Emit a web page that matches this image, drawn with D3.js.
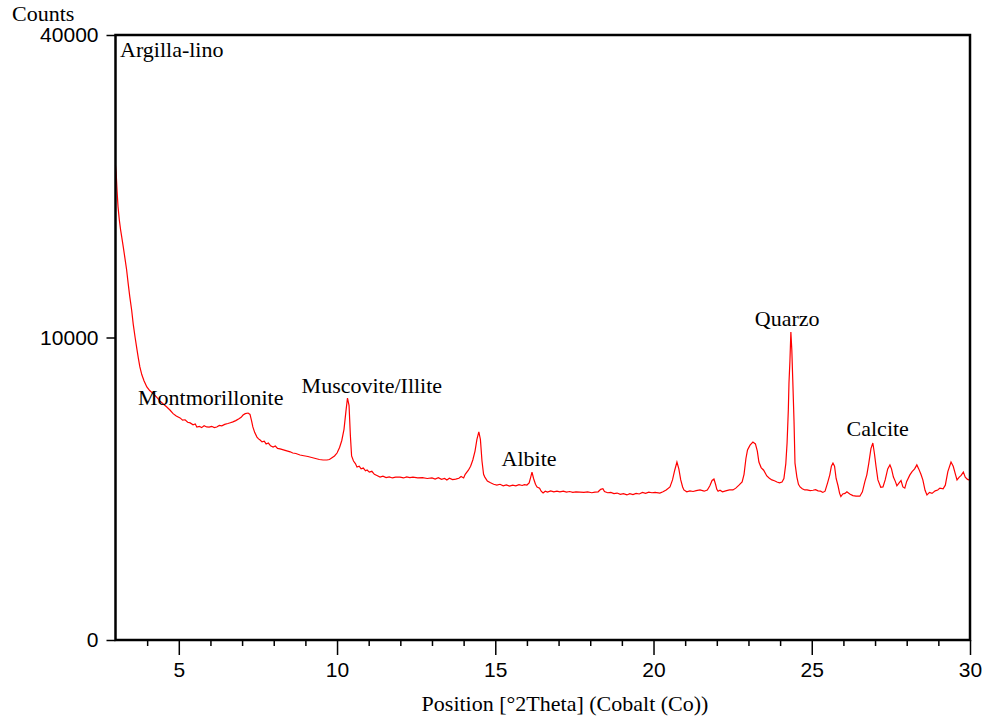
<!DOCTYPE html>
<html>
<head>
<meta charset="utf-8">
<script src="https://cdn.jsdelivr.net/npm/d3@7"></script>
<style>
  html, body { margin: 0; padding: 0; background: #fff; }
  svg { display: block; }
</style>
</head>
<body>
<svg id="chart" width="987" height="722"></svg>
<script>
// ---- data ----
const positions = [3.00,3.02,3.05,3.08,3.12,3.16,3.20,3.25,3.30,3.35,3.40,3.45,3.51,3.56,3.62,3.68,3.72,3.77,3.83,3.90,3.99,4.08,4.18,4.30,4.40,4.50,4.62,4.72,4.82,4.92,5.04,5.12,5.20,5.28,5.36,5.45,5.52,5.57,5.65,5.72,5.80,5.88,5.96,6.04,6.12,6.20,6.28,6.36,6.45,6.55,6.63,6.71,6.80,6.90,6.97,7.03,7.10,7.19,7.25,7.30,7.34,7.40,7.47,7.52,7.57,7.63,7.70,7.76,7.83,7.90,7.98,8.05,8.12,8.20,8.28,8.36,8.44,8.52,8.60,8.70,8.83,8.95,9.08,9.20,9.32,9.44,9.56,9.68,9.76,9.84,9.92,10.00,10.08,10.15,10.22,10.28,10.33,10.38,10.42,10.46,10.52,10.58,10.63,10.70,10.76,10.83,10.90,10.95,11.02,11.10,11.18,11.26,11.36,11.45,11.55,11.65,11.75,11.85,11.99,12.10,12.20,12.30,12.40,12.55,12.70,12.85,13.00,13.10,13.20,13.30,13.40,13.47,13.55,13.65,13.75,13.85,13.92,14.00,14.05,14.15,14.22,14.29,14.36,14.42,14.48,14.53,14.58,14.63,14.67,14.75,14.85,14.95,15.05,15.15,15.25,15.35,15.45,15.55,15.65,15.75,15.85,15.92,16.00,16.07,16.12,16.16,16.21,16.27,16.32,16.40,16.45,16.51,16.58,16.65,16.75,16.85,16.95,17.04,17.15,17.25,17.35,17.45,17.55,17.68,17.80,17.92,18.05,18.15,18.25,18.33,18.40,18.45,18.55,18.65,18.75,18.85,18.95,19.05,19.16,19.25,19.35,19.45,19.55,19.65,19.75,19.85,19.95,20.05,20.20,20.30,20.40,20.52,20.60,20.67,20.74,20.80,20.86,20.92,20.96,21.05,21.15,21.25,21.35,21.47,21.60,21.70,21.78,21.85,21.91,21.96,22.00,22.04,22.10,22.18,22.28,22.40,22.51,22.60,22.70,22.80,22.86,22.92,22.97,23.05,23.14,23.22,23.28,23.33,23.40,23.48,23.58,23.66,23.74,23.82,23.90,23.98,24.06,24.12,24.18,24.22,24.26,24.28,24.31,24.34,24.37,24.40,24.44,24.47,24.53,24.58,24.63,24.70,24.78,24.85,24.95,25.04,25.12,25.20,25.28,25.35,25.42,25.50,25.57,25.62,25.67,25.72,25.77,25.83,25.88,25.92,25.98,26.05,26.11,26.20,26.30,26.40,26.52,26.60,26.68,26.74,26.80,26.87,26.93,26.98,27.03,27.09,27.18,27.25,27.32,27.40,27.47,27.52,27.58,27.64,27.69,27.76,27.82,27.88,27.94,28.00,28.10,28.17,28.25,28.32,28.38,28.45,28.51,28.58,28.64,28.72,28.80,28.90,28.98,29.05,29.15,29.22,29.30,29.40,29.47,29.54,29.59,29.66,29.72,29.79,29.85,29.92,30.00];
const counts = [24600,23900,22000,20500,19300,18400,17700,16800,15900,15000,13900,12900,11900,10900,10000,9200,8700,8150,7700,7350,7000,6800,6650,6450,6250,6100,5930,5780,5600,5480,5390,5280,5300,5180,5150,5060,5100,4960,4990,4930,5020,4960,4950,4990,4930,4960,5030,5010,5080,5120,5160,5200,5260,5350,5420,5530,5600,5630,5560,5250,4960,4700,4500,4420,4370,4290,4320,4200,4240,4120,4070,4110,4010,3990,3960,3930,3900,3870,3820,3800,3740,3710,3680,3640,3600,3560,3540,3540,3560,3630,3700,3820,4050,4350,4850,5700,6400,6000,4600,3700,3500,3400,3270,3300,3200,3230,3130,3160,3080,3110,3000,2960,2900,2930,2880,2910,2870,2900,2900,2870,2910,2880,2900,2870,2880,2850,2870,2830,2880,2820,2850,2800,2860,2810,2830,2860,2920,2870,3000,3150,3300,3540,3900,4400,4730,4400,3500,3000,2900,2760,2700,2650,2625,2650,2600,2630,2590,2620,2600,2640,2610,2640,2625,2700,2900,3080,2850,2650,2560,2520,2420,2360,2420,2390,2430,2400,2420,2400,2420,2390,2410,2380,2400,2390,2380,2400,2370,2390,2400,2480,2500,2410,2370,2380,2340,2360,2320,2340,2300,2340,2310,2350,2330,2380,2350,2390,2370,2380,2360,2400,2460,2560,2800,3150,3460,3200,2800,2560,2460,2400,2430,2410,2440,2460,2420,2460,2600,2780,2830,2650,2480,2420,2450,2400,2430,2460,2460,2520,2620,2730,3000,3600,3950,4150,4280,4200,3900,3460,3250,3150,2940,2860,2800,2770,2730,2700,2730,2850,3400,4240,5800,7220,8500,10370,9200,7390,5200,3420,2900,2650,2560,2500,2460,2460,2440,2450,2470,2430,2420,2380,2420,2700,2980,3300,3420,3300,2850,2600,2350,2250,2330,2350,2400,2330,2280,2260,2260,2400,2750,2980,3400,4000,4240,3800,3300,2800,2550,2560,2800,3200,3350,3200,2900,2750,2600,2700,2780,2560,2520,2750,2980,3100,3200,3350,3200,3000,2800,2450,2300,2380,2350,2430,2460,2520,2500,2620,3100,3460,3300,3000,2800,2900,2960,3080,2900,2820,2790];

const xTicks = [5, 10, 15, 20, 25, 30];
const xMinorTicks = [4,6,7,8,9,11,12,13,14,16,17,18,19,21,22,23,24,26,27,28,29];
const yTicks = [0, 10000, 40000];

const peakLabels = ["Montmorillonite", "Muscovite/Illite", "Albite", "Quarzo", "Calcite"];
const peakPositions = [3.71, 8.88, 15.20, 23.20, 26.10];
const peakCounts = [6035, 6667, 3309, 10775, 4548];

const sampleName = "Argilla-lino";
const yTitle = "Counts";
const xTitle = "Position [°2Theta] (Cobalt (Co))";

// ---- layout ----
const L = 115.5, R = 970, T = 35, B = 640;
const serif = "'Liberation Serif', 'Times New Roman', serif";
const sans = "'Liberation Sans', Arial, sans-serif";

const svg = d3.select("#chart");
const x = d3.scaleLinear().domain([3, 30]).range([L, R]);
const y = d3.scaleSqrt().domain([0, 40000]).range([B, T]);

// data line
const data = positions.map((p, i) => [p, counts[i]]);
svg.append("path")
  .datum(data)
  .attr("fill", "none")
  .attr("stroke", "#ff0000")
  .attr("stroke-width", 1.2)
  .attr("stroke-linejoin", "miter")
  .attr("d", d3.line().x(d => x(d[0])).y(d => y(d[1])));

// frame
svg.append("rect")
  .attr("x", L).attr("y", T).attr("width", R - L).attr("height", B - T)
  .attr("fill", "none").attr("stroke", "#000").attr("stroke-width", 2.5);

// x axis major
const xAxis = svg.append("g").attr("transform", `translate(0,${B})`)
  .call(d3.axisBottom(x).tickValues(xTicks).tickSize(15).tickPadding(7).tickFormat(d3.format("d")));
xAxis.select(".domain").remove();
xAxis.selectAll(".tick line").attr("stroke", "#000").attr("stroke-width", 1.5);
xAxis.selectAll(".tick text").attr("font-family", sans).attr("font-size", 21).attr("fill", "#000");

// x axis minor
const xMinor = svg.append("g").attr("transform", `translate(0,${B})`)
  .call(d3.axisBottom(x).tickValues(xMinorTicks).tickSize(6).tickFormat(""));
xMinor.select(".domain").remove();
xMinor.selectAll(".tick line").attr("stroke", "#000").attr("stroke-width", 1.5);

// y axis
const yAxis = svg.append("g").attr("transform", `translate(${L},0)`)
  .call(d3.axisLeft(y).tickValues(yTicks).tickSize(9).tickPadding(8).tickFormat(d3.format("d")));
yAxis.select(".domain").remove();
yAxis.selectAll(".tick line").attr("stroke", "#000").attr("stroke-width", 1.5);
yAxis.selectAll(".tick text").attr("font-family", sans).attr("font-size", 21).attr("fill", "#000");

// titles
svg.append("text").attr("x", 12).attr("y", 21)
  .attr("font-family", serif).attr("font-size", 22).text(yTitle);
svg.append("text").attr("x", 565).attr("y", 711).attr("text-anchor", "middle")
  .attr("font-family", serif).attr("font-size", 22).text(xTitle);
svg.append("text").attr("x", 120).attr("y", 57)
  .attr("font-family", serif).attr("font-size", 22).text(sampleName);

// peak labels
svg.append("g").selectAll("text")
  .data(peakLabels)
  .join("text")
  .attr("x", (d, i) => x(peakPositions[i]))
  .attr("y", (d, i) => y(peakCounts[i]))
  .attr("font-family", serif).attr("font-size", 22).attr("fill", "#000")
  .text(d => d);
</script>
</body>
</html>
